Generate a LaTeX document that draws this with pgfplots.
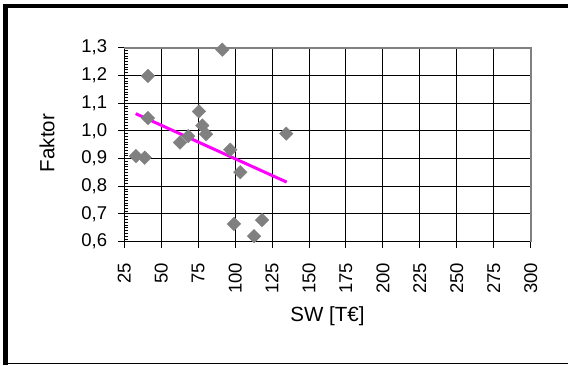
\documentclass[border=0pt]{standalone}
\usepackage{pgfplots}
\pgfplotsset{compat=1.18}
\usepackage{fontspec}
\setmainfont{Liberation Sans}

\definecolor{markgray}{RGB}{128,128,128}
\definecolor{trend}{RGB}{255,0,255}

% Faktor vs. SW [T€]
\pgfplotstableread{
x      y
32.9   0.909
38.8   0.903
41.0   1.198
41.0   1.046
62.7   0.958
68.3   0.981
75.5   1.070
77.8   1.019
80.3   0.988
91.3   1.293
96.7   0.932
99.2   0.664
103.5  0.851
112.8  0.620
118.2  0.678
134.6  0.990
}\datatable

% linear trend line
\pgfplotstableread{
x      y
32.7   1.062
134.9  0.815
}\trendtable

\begin{document}
\begin{tikzpicture}[x=1pt,y=1pt]
\useasboundingbox (0,0) rectangle (568,365);
% outer frame
\fill[black] (3,0) rectangle (8,361);
\fill[black] (3,357) rectangle (568,361);
\draw[black,line width=1.2pt] (3,1.3) -- (568,1.3);

\begin{axis}[
  at={(124.3pt,123.3pt)}, anchor=south west,
  scale only axis, width=406.4pt, height=194pt,
  xmin=25, xmax=300, ymin=0.6, ymax=1.3,
  xtick={25,50,...,300},
  ytick={0.6,0.7,...,1.3},
  minor y tick num=9,
  xtick pos=bottom, ytick pos=left,
  grid=major,
  major grid style={black, line width=1pt},
  axis line style={black, line width=1pt},
  tick style={black, line width=1pt},
  tick align=outside,
  major tick length=6pt,
  minor tick length=4pt,
  minor y tick style={xshift=4pt, line width=0.8pt},
  every tick label/.append style={font=\fontsize{18.5}{21}\selectfont},
  label style={font=\fontsize{20.5}{24}\selectfont},
  /pgf/number format/assume math mode=true,
  /pgf/number format/use comma,
  yticklabel style={/pgf/number format/fixed, /pgf/number format/fixed zerofill, /pgf/number format/precision=1, inner sep=0pt, xshift=-11pt},
  xticklabel style={rotate=90, anchor=east, inner sep=0pt, xshift=-15pt},
  xlabel={SW [T€]},
  ylabel={Faktor},
  xlabel style={at={(axis description cs:0.500,-0.383)}, anchor=center},
  ylabel style={at={(axis description cs:-0.190,0.509)}, anchor=center},
  clip=false,
]
\addplot[only marks, mark=square*, mark size=4.8pt,
  mark options={rotate=45, fill=markgray, draw=markgray}]
  table[x=x, y=y] {\datatable};
\addplot[trend, line width=3pt, no marks] table[x=x, y=y] {\trendtable};
\draw[markgray, line width=2pt] (rel axis cs:0,1) -- (rel axis cs:1,1) -- (rel axis cs:1,0);
\end{axis}
\end{tikzpicture}
\end{document}
